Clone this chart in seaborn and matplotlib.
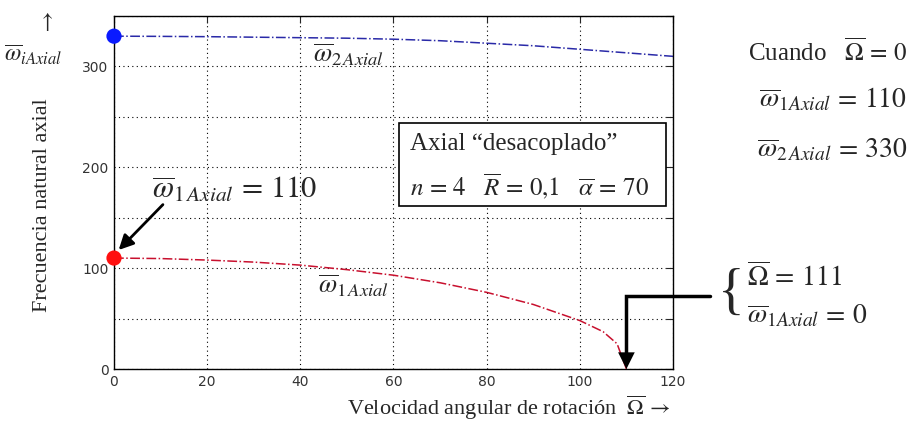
import matplotlib
matplotlib.use("Agg")
import matplotlib.pyplot as plt
from matplotlib.patches import Rectangle
import seaborn as sns
import pandas as pd

# rotation speed (Omega bar) and axial natural frequencies
omega_1 = [0, 10, 20, 30, 40, 50, 60, 70, 80, 90, 100, 105, 108, 110]
w1_axial = [110, 109.5, 108, 106, 103, 98.5, 93, 85.5, 76, 64, 48, 37, 25, 0]

omega_2 = [0, 10, 20, 30, 40, 50, 60, 70, 80, 90, 100, 110, 120]
w2_axial = [330, 329.8, 329.5, 329, 328.5, 328, 327, 325.5, 323, 320.5, 317, 313.5, 310]

x_ticks = [0, 20, 40, 60, 80, 100, 120]
y_ticks = [0, 50, 100, 150, 200, 250, 300, 350]
y_labels = ["0", "", "100", "", "200", "", "300", ""]

W, H = 912, 423


def px(x, y):
    return x / W, 1 - y / H


sns.set_style("white")
plt.rcParams["mathtext.fontset"] = "stix"
plt.rcParams["font.family"] = ["Liberation Serif", "DejaVu Serif"]

fig = plt.figure(figsize=(W / 100, H / 100), dpi=100)
ax = fig.add_axes([114 / W, 1 - 369 / H, (673 - 114) / W, (369 - 16) / H])

df1 = pd.DataFrame({"Omega": omega_1, "w": w1_axial})
df2 = pd.DataFrame({"Omega": omega_2, "w": w2_axial})

sns.lineplot(data=df2, x="Omega", y="w", ax=ax, color="#2a2aa8",
             linestyle="-.", linewidth=1.1)
sns.lineplot(data=df1, x="Omega", y="w", ax=ax, color="#c8102e",
             linestyle="-.", linewidth=1.1)
sns.scatterplot(x=[omega_2[0]], y=[w2_axial[0]], ax=ax, color="#0a1aff",
                s=120, edgecolor="none", zorder=5, clip_on=False)
sns.scatterplot(x=[omega_1[0]], y=[w1_axial[0]], ax=ax, color="#ff1010",
                s=120, edgecolor="none", zorder=5, clip_on=False)

ax.set_xlim(0, 120)
ax.set_ylim(0, 350)
ax.set_xticks(x_ticks)
ax.set_yticks(y_ticks)
ax.set_yticklabels(y_labels)
ax.set_xlabel("")
ax.set_ylabel("")
ax.grid(True, linestyle=(0, (1, 3)), color="black", linewidth=0.8)
ax.tick_params(direction="in", top=True, right=True, length=5,
               labelsize=10, labelcolor="#333333", pad=4)
for lab in ax.get_xticklabels() + ax.get_yticklabels():
    lab.set_family("DejaVu Sans")
for sp in ax.spines.values():
    sp.set_color("black")
    sp.set_linewidth(1.0)

# axis titles
fig.text(*px(43, 205), "Frecuencia natural axial", rotation=90,
         fontsize=16, ha="center", va="center")
fig.text(*px(347, 408), r"Velocidad angular de rotación  $\overline{\Omega}\,\rightarrow$",
         fontsize=16, ha="left", va="center")
fig.text(*px(46, 22), r"$\uparrow$", fontsize=16, ha="center", va="center")
fig.text(*px(33, 55), r"$\overline{\omega}_{iAxial}$", fontsize=17,
         ha="center", va="center")

# curve labels
fig.text(*px(313, 55), r"$\overline{\omega}_{2\,Axial}$", fontsize=19,
         ha="left", va="center")
fig.text(*px(318, 286), r"$\overline{\omega}_{1\,Axial}$", fontsize=19,
         ha="left", va="center")

# annotation for omega_1 at rest
fig.text(*px(152, 190), r"$\overline{\omega}_{1\,Axial}\,=\,110$", fontsize=22,
         ha="left", va="center")
ax.annotate("", xy=(1, 118), xytext=(10.5, 163),
            arrowprops=dict(arrowstyle="-|>", color="black", lw=2,
                            mutation_scale=22, shrinkA=0, shrinkB=0))

# boxed parameters
fig.add_artist(Rectangle(px(399, 206), (666 - 399) / W, (206 - 123) / H,
                         transform=fig.transFigure, facecolor="white",
                         edgecolor="black", linewidth=1.2))
fig.text(*px(410, 144), "Axial “desacoplado”", fontsize=18, ha="left", va="center")
fig.text(*px(410, 186),
         r"$n\,=\,4\quad\overline{R}\,=\,0{,}1\quad\overline{\alpha}\,=\,70$",
         fontsize=18, ha="left", va="center")

# values at rest (right side)
fig.text(*px(907, 52), r"Cuando   $\overline{\Omega}\,=\,0$", fontsize=18,
         ha="right", va="center")
fig.text(*px(907, 100), r"$\overline{\omega}_{1Axial}\,=\,110$", fontsize=20,
         ha="right", va="center")
fig.text(*px(907, 150), r"$\overline{\omega}_{2\,Axial}\,=\,330$", fontsize=20,
         ha="right", va="center")

# zero crossing of omega_1
x_zero = omega_1[-1]
ax.plot([128, x_zero, x_zero], [72, 72, 12], color="black", lw=2.5,
        clip_on=False, solid_joinstyle="miter")
ax.annotate("", xy=(x_zero, 0), xytext=(x_zero, 14),
            arrowprops=dict(arrowstyle="-|>", color="black", lw=0,
                            mutation_scale=30, shrinkA=0, shrinkB=0))
fig.text(*px(745, 295), "{", fontsize=40, ha="right", va="center")
fig.text(*px(747, 277), r"$\overline{\Omega}\,=\,111$", fontsize=20,
         ha="left", va="center")
fig.text(*px(747, 316), r"$\overline{\omega}_{1Axial}\,=\,0$", fontsize=20,
         ha="left", va="center")

fig.savefig("out.png", dpi=100)
